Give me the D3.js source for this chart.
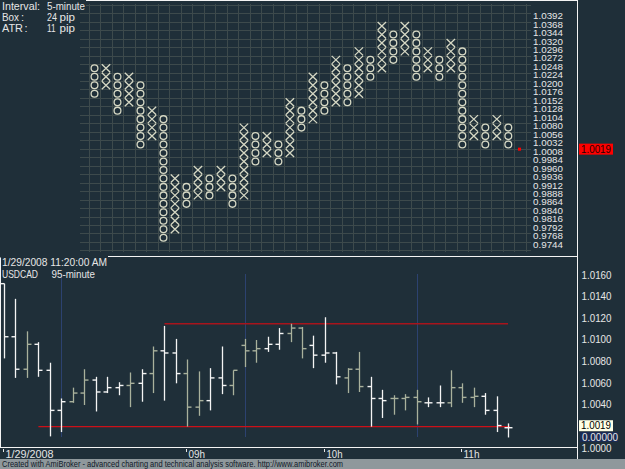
<!DOCTYPE html>
<html><head><meta charset="utf-8">
<script src="https://cdn.jsdelivr.net/npm/d3@7"></script>
<style>
html,body{margin:0;padding:0;background:#1f2f39;overflow:hidden;}
svg{display:block;}
text{font-family:"Liberation Sans",Arial,sans-serif;}
</style></head><body>
<svg id="c" width="625" height="469"></svg>
<script>
// ---------- Point & Figure data (box = 24 pip) ----------
const pfType   = ["O","X","O","X","O","X","O","X","O","X","O","X","O","X","O","X","O","X","O","X","O","X","O","X","O","X","O","X","O","X","O","X","O","X","O","X","O"];
const pfTop    = [1.0248,1.0248,1.0224,1.0224,1.0200,1.0128,1.0104,0.9936,0.9912,0.9960,0.9936,0.9960,0.9936,1.0080,1.0056,1.0056,1.0032,1.0152,1.0128,1.0224,1.0200,1.0272,1.0248,1.0296,1.0272,1.0368,1.0344,1.0368,1.0344,1.0296,1.0272,1.0320,1.0296,1.0104,1.0080,1.0104,1.0080];
const pfBottom = [1.0176,1.0200,1.0128,1.0152,1.0032,1.0056,0.9768,0.9792,0.9864,0.9888,0.9888,0.9912,0.9864,0.9888,0.9984,1.0008,0.9984,1.0008,1.0080,1.0104,1.0128,1.0152,1.0152,1.0176,1.0224,1.0248,1.0272,1.0296,1.0224,1.0248,1.0224,1.0248,1.0032,1.0056,1.0032,1.0056,1.0032];
const pfBoxSize = 0.0024;
const pfTickLabels = ["1.0392","1.0368","1.0344","1.0320","1.0296","1.0272","1.0248","1.0224","1.0200","1.0176","1.0152","1.0128","1.0104","1.0080","1.0056","1.0032","1.0008","0.9984","0.9960","0.9936","0.9912","0.9888","0.9864","0.9840","0.9816","0.9792","0.9768","0.9744"];
const lastPrice = 1.0019;
const infoLabels = ["Interval:","Box","ATR"];
const infoColons = ["",":",":"];
const infoNums = ["5-minute","24","11"];
const infoUnits = ["","pip","pip"];

// ---------- 5-minute bars ----------
const barOpen  = [1.0152,1.0103,1.0073,1.0096,1.0072,1.0035,1.0043,1.0051,1.0063,1.0052,1.0056,1.0058,1.0060,1.0069,1.0090,1.0088,1.0069,1.0038,1.0044,1.0065,1.0058,1.0095,1.0090,1.0092,1.0096,1.0106,1.0111,1.0095,1.0086,1.0088,1.0065,1.0073,1.0057,1.0046,1.0046,1.0046,1.0047,1.0042,1.0042,1.0042,1.0056,1.0047,1.0048,1.0035,1.0019];
const barHigh  = [1.0152,1.0138,1.0108,1.0098,1.0079,1.0046,1.0056,1.0073,1.0066,1.0066,1.0061,1.0070,1.0073,1.0094,1.0113,1.0101,1.0082,1.0071,1.0074,1.0094,1.0072,1.0101,1.0100,1.0103,1.0111,1.0115,1.0112,1.0104,1.0121,1.0089,1.0074,1.0089,1.0066,1.0054,1.0049,1.0050,1.0054,1.0047,1.0058,1.0072,1.0060,1.0056,1.0051,1.0048,1.0023];
const barLow   = [1.0083,1.0065,1.0065,1.0066,1.0011,1.0015,1.0042,1.0040,1.0034,1.0051,1.0049,1.0038,1.0043,1.0051,1.0044,1.0060,1.0020,1.0030,1.0035,1.0050,1.0049,1.0075,1.0079,1.0089,1.0091,1.0098,1.0083,1.0074,1.0079,1.0059,1.0051,1.0052,1.0020,1.0028,1.0031,1.0035,1.0022,1.0038,1.0038,1.0038,1.0042,1.0038,1.0031,1.0015,1.0010];
const barClose = [1.0103,1.0073,1.0096,1.0072,1.0035,1.0043,1.0051,1.0063,1.0052,1.0056,1.0058,1.0060,1.0069,1.0090,1.0088,1.0069,1.0038,1.0044,1.0065,1.0058,1.0072,1.0090,1.0092,1.0096,1.0106,1.0111,1.0092,1.0086,1.0088,1.0066,1.0073,1.0057,1.0046,1.0044,1.0046,1.0047,1.0043,1.0042,1.0042,1.0056,1.0047,1.0048,1.0035,1.0021,1.0019];
const barShade = ["w","w","g","w","w","w","g","g","w","w","w","g","w","g","w","w","g","g","w","w","g","g","g","w","w","g","g","w","w","w","g","g","w","w","g","g","g","w","w","g","g","g","w","w","w"];
const sessionBars = [5,21,36];
const xTickIndex = [0,16,28,40];
const xTickLabels = ["1/29/2008","09h","10h","11h"];
const priceTicks = [1.0160,1.0140,1.0120,1.0100,1.0080,1.0060,1.0040,1.0000];
const resistance = 1.0115, support = 1.0020;
const resStart = 14, supStart = 3;
const titleLine1 = "1/29/2008 11:20:00 AM";
const titleSym = "USDCAD", titleInt = "95-minute";
const footer = "Created with AmiBroker - advanced charting and technical analysis software. http://www.amibroker.com";

// ---------- drawing ----------
const svg = d3.select("#c");
const BG = "#1f2f39", GRID = "#3d4a4c", MARK = "#d6d8c4", WHITE = "#f4f4f4", GREY = "#a9b19c", TXT = "#e6e6e6";
svg.append("rect").attr("width",625).attr("height",469).attr("fill",BG);

function txt(x, y, s, size, w, fill){
  const t = svg.append("text").attr("x",x).attr("y",y).attr("font-size",size).attr("fill",fill||TXT).text(s);
  if (w) t.attr("textLength",w).attr("lengthAdjust","spacingAndGlyphs");
  return t;
}

// top panel scales
const nCols = pfType.length;
const xPF = d3.scaleLinear().domain([0, nCols-1]).range([94.5, 508.3]);
const yPF = d3.scaleLinear().domain([1.0392, 0.9744]).range([17.5, 246.2]);

const gridG = svg.append("g").attr("stroke",GRID).attr("stroke-width",1);
const gLeft = 80, gRight = 531, gTop = 4, gBot = 252;
d3.range(-2, nCols+2).forEach(i=>{
  const x = Math.round(xPF(i+0.5))+0.5;
  if (x>gLeft && x<gRight) gridG.append("line").attr("x1",x).attr("x2",x).attr("y1",gTop).attr("y2",gBot);
});
d3.range(-2, 29).forEach(k=>{
  const y = Math.round(yPF(1.0392 - (k+0.5)*pfBoxSize))+0.5;
  if (y>gTop && y<gBot) gridG.append("line").attr("x1",gLeft).attr("x2",gRight).attr("y1",y).attr("y2",y);
});

// P&F marks
const markG = svg.append("g").attr("stroke",MARK).attr("stroke-width",1.3).attr("fill","none");
pfType.forEach((t,i)=>{
  const n = Math.round((pfTop[i]-pfBottom[i])/pfBoxSize);
  for (let j=0;j<=n;j++){
    const p = pfTop[i]-j*pfBoxSize;
    const cx = xPF(i), cy = yPF(p);
    if (t==="O") markG.append("circle").attr("cx",cx).attr("cy",cy).attr("r",3.4);
    else {
      const hx = 4.2, hy = 4.0;
      markG.append("path").attr("d",`M${cx-hx},${cy-hy}L${cx+hx},${cy+hy}M${cx-hx},${cy+hy}L${cx+hx},${cy-hy}`);
    }
  }
});
svg.append("rect").attr("x",518).attr("y",yPF(lastPrice)-1.5).attr("width",3).attr("height",3).attr("fill","#ff0000");

// right labels top panel
svg.append("g").selectAll("text").data(pfTickLabels).join("text")
  .attr("x",563).attr("y",(d,k)=>yPF(1.0392-k*pfBoxSize)-1.5).attr("dy","0.35em")
  .attr("text-anchor","end").attr("font-size",8.9).attr("fill",TXT)
  .attr("textLength",30).attr("lengthAdjust","spacingAndGlyphs").text(d=>d);
svg.append("rect").attr("x",579).attr("y",yPF(lastPrice)-5.5).attr("width",34).attr("height",11).attr("fill","#ff0000");
txt(581, yPF(lastPrice)+3.5, lastPrice.toFixed(4), 10, 30, "#2a0000");

// info text (with bg)
svg.append("rect").attr("x",0).attr("y",0).attr("width",86).attr("height",11).attr("fill",BG);
// borders
const border = svg.append("g").attr("stroke",WHITE).attr("stroke-width",1);
border.append("line").attr("x1",86).attr("x2",578).attr("y1",0.5).attr("y2",0.5);
border.append("line").attr("x1",577.5).attr("x2",577.5).attr("y1",0).attr("y2",462);
border.append("line").attr("x1",0).attr("x2",578).attr("y1",256.5).attr("y2",256.5);
border.append("line").attr("x1",0).attr("x2",578).attr("y1",447.5).attr("y2",447.5);
border.append("line").attr("x1",0.5).attr("x2",0.5).attr("y1",257).attr("y2",448);

const numW = [38, 10, 8.5];
infoLabels.forEach((d,i)=>{
  const y = 9.5 + i*11;
  txt(2, y, d, 11, i===0?38:(i===1?17:21));
  if (infoColons[i]) txt(i===1?21:24.5, y, infoColons[i], 11);
  txt(47, y, infoNums[i], 11, numW[i]);
  if (infoUnits[i]) txt(59.5, y, infoUnits[i], 11, 15.5);
});

// ---------- bottom panel ----------
const nBars = barOpen.length;
const xB = d3.scaleLinear().domain([0, nBars-1]).range([4, 508.3]);
const yB = d3.scaleLinear().domain([1.0160, 1.0000]).range([275, 448.3]);

// session separators
svg.append("g").selectAll("line").data(sessionBars).join("line")
  .attr("x1",d=>Math.round(xB(d))+0.5).attr("x2",d=>Math.round(xB(d))+0.5).attr("y1",274).attr("y2",437)
  .attr("stroke","#2c4270").attr("stroke-width",1);

// support / resistance
svg.append("line").attr("x1",xB(resStart)).attr("x2",508).attr("y1",yB(resistance)).attr("y2",yB(resistance)).attr("stroke","#a8141c").attr("stroke-width",1.5);
svg.append("line").attr("x1",xB(supStart)).attr("x2",510).attr("y1",yB(support)).attr("y2",yB(support)).attr("stroke","#cc1018").attr("stroke-width",1.2);

// OHLC bars
const barG = svg.append("g");
d3.range(nBars).forEach(i=>{
  const x = Math.round(xB(i))+0.5;
  const col = barShade[i]==="w" ? WHITE : GREY;
  barG.append("line").attr("x1",x).attr("x2",x).attr("y1",yB(barHigh[i])).attr("y2",yB(barLow[i])).attr("stroke",col).attr("stroke-width",1.3);
  barG.append("line").attr("x1",x-4).attr("x2",x).attr("y1",yB(barOpen[i])).attr("y2",yB(barOpen[i])).attr("stroke",col).attr("stroke-width",1.4);
  barG.append("line").attr("x1",x).attr("x2",x+4).attr("y1",yB(barClose[i])).attr("y2",yB(barClose[i])).attr("stroke",col).attr("stroke-width",1.4);
});

// title texts
svg.append("rect").attr("x",0).attr("y",256).attr("width",108).attr("height",1.5).attr("fill",BG);
txt(2, 266, titleLine1, 11, 105);
txt(2, 278, titleSym, 11, 36);
txt(51.5, 278, titleInt, 11, 43.5);

// right axis
svg.append("g").selectAll("text").data(priceTicks).join("text")
  .attr("x",581.5).attr("y",d=>yB(d)).attr("dy","0.35em").attr("font-size",10).attr("fill",TXT)
  .attr("textLength",30).attr("lengthAdjust","spacingAndGlyphs").text(d=>d.toFixed(4));
svg.append("rect").attr("x",579).attr("y",yB(lastPrice)-7.5).attr("width",34).attr("height",11).attr("fill","#ffffe6");
txt(581, yB(lastPrice)+1.5, lastPrice.toFixed(4), 10, 30, "#000");
svg.append("rect").attr("x",580).attr("y",432).attr("width",38).attr("height",10).attr("fill","#1a2a52");
txt(582, 440.5, "0.00000", 10, 36);

// x axis
const xLabW = [48, 16.5, 16, 16];
xTickIndex.forEach((b,i)=>{
  const x = Math.round(xB(b))-0.5;
  svg.append("line").attr("x1",x).attr("x2",x).attr("y1",449).attr("y2",452).attr("stroke",TXT);
  txt(x+2, 457.5, xTickLabels[i], 11, xLabW[i]);
});

// footer
svg.append("rect").attr("x",0).attr("y",459).attr("width",625).attr("height",10).attr("fill","#8f989c");
txt(2, 467, footer, 9, 341, "#101828");
</script></body></html>
